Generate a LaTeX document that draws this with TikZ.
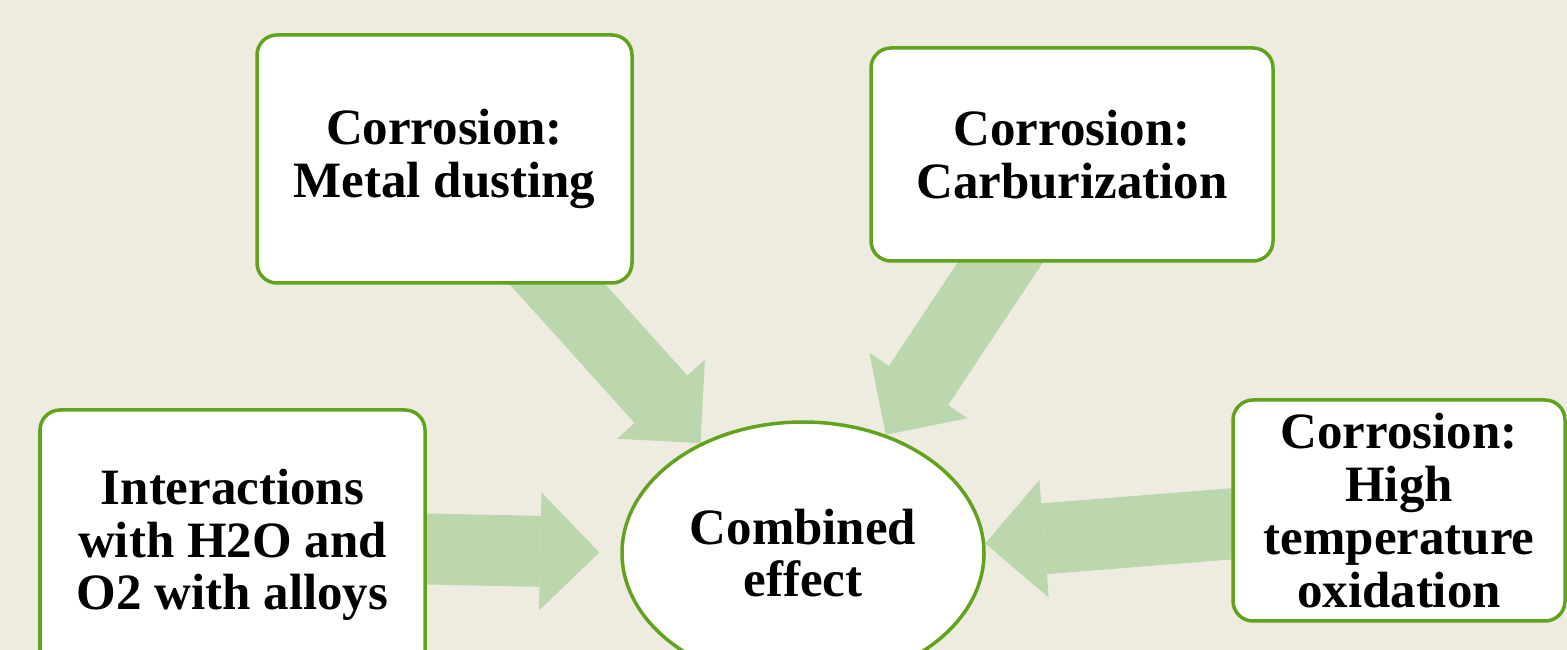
\documentclass[tikz,border=0pt]{standalone}
\usepackage{fontspec}
\setmainfont{Liberation Serif}
\usetikzlibrary{arrows.meta, shapes.geometric, positioning}

\definecolor{paper}{HTML}{EEEBE0}
\definecolor{leafline}{HTML}{62A21C}
\definecolor{leaffill}{HTML}{BCD6AD}

\pgfdeclarelayer{paperlayer}
\pgfdeclarelayer{flowlayer}
\pgfsetlayers{paperlayer,flowlayer,main}

\begin{document}
\begin{tikzpicture}
[
cause/.style={rectangle, rounded corners=0.4cm, draw=leafline, line width=0.07cm,
              fill=white, align=center, font=\fontsize{29}{30}\selectfont\bfseries},
effect/.style={ellipse, draw=leafline, line width=0.07cm, fill=white, inner sep=0pt,
               minimum width=7.24cm, minimum height=5.24cm, align=center,
               font=\fontsize{29}{30}\selectfont\bfseries},
feed/.style={draw=leaffill, line width=1.42cm,
             -{Triangle[length=1.18cm, width=2.36cm, line width=0pt]}}
]

    \useasboundingbox (0,0) rectangle (31.34,-13);
    \begin{pgfonlayer}{paperlayer}
    \fill[paper] (0,0) rectangle (31.34,-13);
    \end{pgfonlayer}

    \node[cause, minimum width=7.5cm, minimum height=4.96cm] (dusting) at (8.89,-3.18) {Corrosion:\\Metal dusting};
    \node[cause, minimum width=8.04cm, minimum height=4.26cm] (carbur) at (21.44,-3.09) {Corrosion:\\Carburization};
    \node[cause, minimum width=7.7cm, minimum height=5.4cm] (interact) at (4.65,-10.9) {Interactions\\with H2O and\\O2 with alloys};
    \node[cause, minimum width=6.64cm, minimum height=4.42cm] (oxid) at (27.98,-10.21) {Corrosion:\\High\\temperature\\oxidation};
    \node[effect] (combined) at (16.06,-11.06) {Combined\\effect};

    \begin{pgfonlayer}{flowlayer}
    \draw[feed] (dusting.center) -- (combined.133);
    \draw[feed] (carbur.center) -- (combined.55);
    \draw[feed, shorten >=0.42cm] (interact.center) -- (combined.west);
    \draw[feed] (oxid.center) -- (combined.3);
    \end{pgfonlayer}
\end{tikzpicture}
\end{document}
